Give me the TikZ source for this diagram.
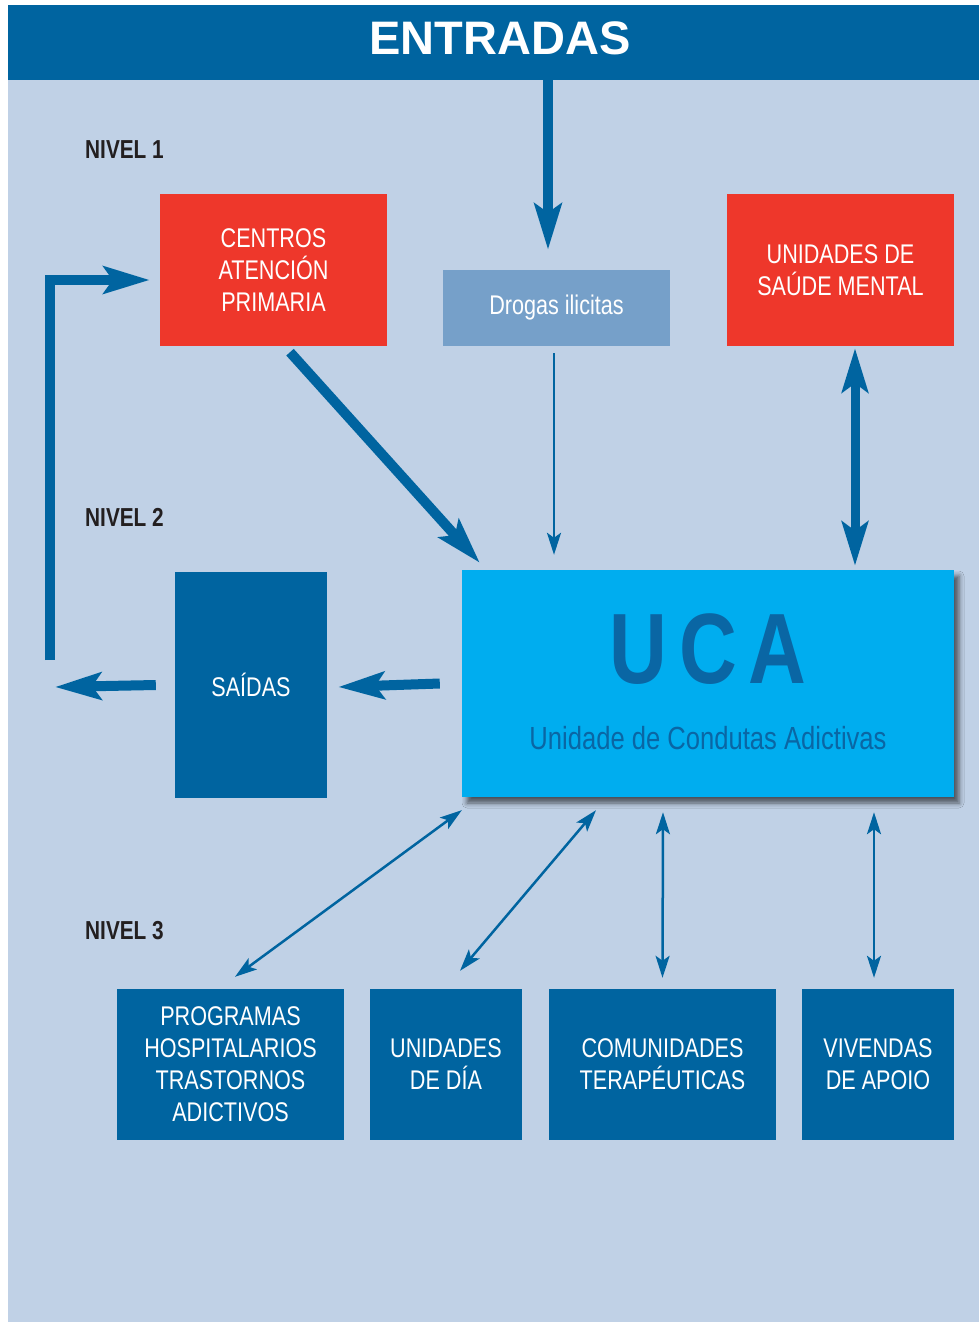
\documentclass[tikz,border=0pt]{standalone}
\usepackage{fontspec}
\setmainfont{Liberation Sans}
\newfontfamily\condfont[FakeStretch=0.8]{Liberation Sans}
\usetikzlibrary{arrows.meta,shadows.blur}
\definecolor{bgblue}{HTML}{C0D1E6}
\definecolor{darkblue}{HTML}{0064A0}
\definecolor{redfill}{HTML}{EE372B}
\definecolor{drugfill}{HTML}{76A0C9}
\definecolor{ucafill}{HTML}{00ADEF}
\definecolor{ucatext}{HTML}{0A66A4}
\definecolor{nivtext}{HTML}{231F20}

\begin{document}
\begin{tikzpicture}[x=1pt,y=-1pt,
    box/.style={rectangle,inner sep=0pt,text=white,align=center,
        font=\condfont\fontsize{27}{32}\selectfont},
    wide/.style={minimum width=227pt},
    narrow/.style={minimum width=152pt},
    nivel/.style={anchor=base west,inner sep=0pt,text=nivtext,
        font=\condfont\bfseries\fontsize{26}{28}\selectfont},
    bigarrow/.style={draw=darkblue,line width=10pt,
        -{Stealth[length=46pt,width=27pt,inset=9pt]}},
    bigdouble/.style={draw=darkblue,line width=9pt,
        {Stealth[length=44pt,width=26pt,inset=9pt]}-{Stealth[length=44pt,width=26pt,inset=9pt]}},
    thinarrow/.style={draw=darkblue,line width=2.5pt,
        -{Stealth[length=22pt,width=14pt,inset=5pt]}},
    thindouble/.style={draw=darkblue,line width=2.5pt,
        {Stealth[length=22pt,width=14pt,inset=5pt]}-{Stealth[length=22pt,width=14pt,inset=5pt]}}]
    \useasboundingbox (0,0) rectangle (979,1322);
    \fill[bgblue] (8,5) rectangle (979,1322);
    \node[fill=darkblue,inner sep=0pt,minimum width=971pt,minimum height=75pt] (entr) at (493.5,42.5) {};
    \node[anchor=base,text=white,font=\bfseries\fontsize{47}{50}\selectfont] (entrtxt) at (500,55) {ENTRADAS};
    \node[nivel] (niv1) at (85,158) {NIVEL 1};
    \node[nivel] (niv2) at (85,526) {NIVEL 2};
    \node[nivel] (niv3) at (85,939) {NIVEL 3};
    \node[box,wide,fill=redfill,minimum height=152pt] (cap) at (273.5,270) {CENTROS\\ATENCIÓN\\PRIMARIA};
    \node[box,wide,fill=drugfill,minimum height=76pt] (drog) at (556.5,308) {Drogas ilicitas};
    \node[box,wide,fill=redfill,minimum height=152pt] (sm) at (840.5,270) {UNIDADES DE\\SAÚDE MENTAL};
    \node[fill=ucafill,inner sep=0pt,minimum width=492pt,minimum height=227pt,
        blur shadow={shadow xshift=5pt,shadow yshift=-6pt,shadow blur radius=5pt,shadow opacity=60}] (uca) at (708,683.5) {};
    \node[anchor=base,text=ucatext,font=\condfont\bfseries\fontsize{100}{100}\selectfont] (ucatit) at (uca.center) {U\hspace{12pt}C\hspace{12pt}A};
    \node[anchor=base,text=ucatext,font=\condfont\fontsize{32}{36}\selectfont] (ucasub) at ([yshift=-66pt]uca.center) {Unidade de Condutas Adictivas};
    \node[box,narrow,fill=darkblue,minimum height=226pt] (sai) at (251,685) {SAÍDAS};
    \node[box,wide,fill=darkblue,minimum height=151pt] (prog) at (230.5,1064.5) {PROGRAMAS\\HOSPITALARIOS\\TRASTORNOS\\ADICTIVOS};
    \node[box,narrow,fill=darkblue,minimum height=151pt] (udia) at (446,1064.5) {UNIDADES\\DE DÍA};
    \node[box,wide,fill=darkblue,minimum height=151pt] (com) at (662.5,1064.5) {COMUNIDADES\\TERAPÉUTICAS};
    \node[box,narrow,fill=darkblue,minimum height=151pt] (viv) at (878,1064.5) {VIVENDAS\\DE APOIO};
    \coordinate (ret) at (50,660);
    \coordinate (out) at (55,687);
    \draw[bigarrow] ([xshift=54.5pt]entr.south) -- ([xshift=-8.5pt,yshift=20pt]drog.north);
    \draw[bigarrow] ([xshift=16.5pt,yshift=-6pt]cap.south) -- ([xshift=18pt,yshift=7pt]uca.north west);
    \draw[thinarrow] ([xshift=-2.5pt,yshift=-7pt]drog.south) -- ([xshift=-154pt,yshift=15pt]uca.north);
    \draw[bigdouble] ([xshift=14.5pt,yshift=-2pt]sm.south) -- ([xshift=147pt,yshift=4pt]uca.north);
    \draw[bigarrow] ([xshift=-22pt]uca.west) -- ([xshift=11pt,yshift=-2pt]sai.east);
    \draw[bigarrow] ([xshift=-19pt]sai.west) -- (out);
    \draw[bigarrow] (ret) |- ([xshift=-10pt,yshift=-10pt]cap.west);
    \draw[thindouble] ([xshift=4.5pt,yshift=12pt]prog.north) -- ([yshift=-13pt]uca.south west);
    \draw[thindouble] ([xshift=14pt,yshift=18pt]udia.north) -- ([xshift=-112pt,yshift=-13pt]uca.south);
    \draw[thindouble] ([yshift=11pt]com.north) -- ([xshift=-45pt,yshift=-15pt]uca.south);
    \draw[thindouble] ([xshift=-4pt,yshift=11pt]viv.north) -- ([xshift=166pt,yshift=-15pt]uca.south);
\end{tikzpicture}
\end{document}
